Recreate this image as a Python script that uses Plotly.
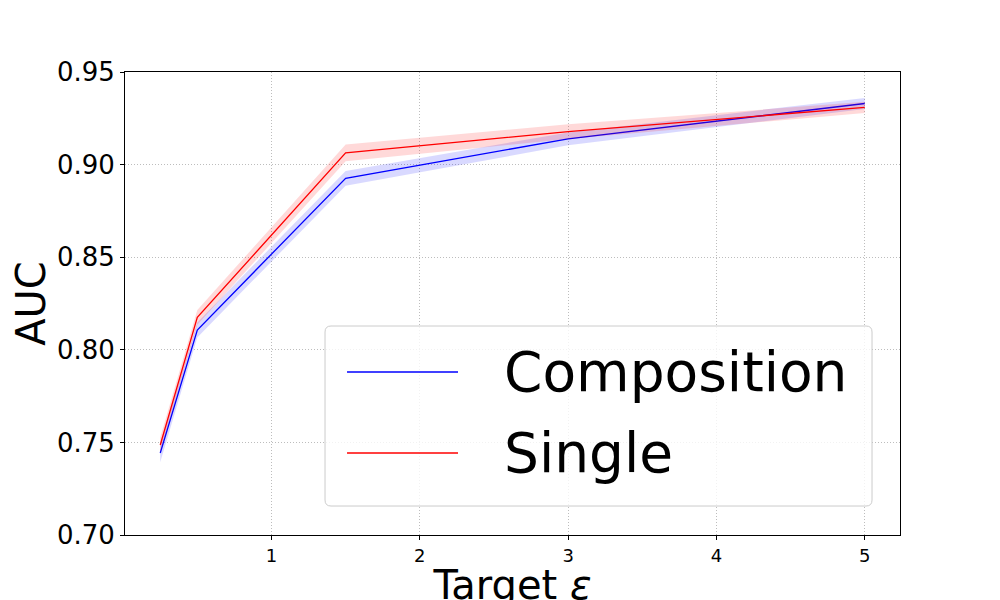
import plotly.graph_objects as go

# target epsilon values
epsilons = [0.25, 0.5, 1.5, 3, 5]

# mean AUC and spread for each method
composition_auc = [0.7443, 0.8107, 0.8926, 0.9139, 0.9330]
composition_std = [0.005, 0.004, 0.004, 0.0035, 0.003]
single_auc = [0.7486, 0.8175, 0.9063, 0.9178, 0.9309]
single_std = [0.004, 0.004, 0.0045, 0.004, 0.003]

series_names = ['Composition', 'Single']
y_ticks = [0.70, 0.75, 0.80, 0.85, 0.90, 0.95]
x_ticks = [1, 2, 3, 4, 5]

FONT = 'DejaVu Sans'


def band(x, mean, std, fillcolor):
    upper = [m + s for m, s in zip(mean, std)]
    lower = [m - s for m, s in zip(mean, std)]
    return go.Scatter(x=list(x) + list(x)[::-1], y=upper + lower[::-1],
                      fill='toself', fillcolor=fillcolor, mode='lines',
                      line=dict(width=0), hoverinfo='skip', showlegend=False)


fig = go.Figure()
fig.add_trace(go.Scatter(x=epsilons, y=composition_auc, name=series_names[0], mode='lines',
                         line=dict(color='blue', width=1.3), showlegend=False))
fig.add_trace(band(epsilons, composition_auc, composition_std, 'rgba(0,0,255,0.15)'))
fig.add_trace(go.Scatter(x=epsilons, y=single_auc, name=series_names[1], mode='lines',
                         line=dict(color='red', width=1.3), showlegend=False))
fig.add_trace(band(epsilons, single_auc, single_std, 'rgba(255,0,0,0.15)'))

# matplotlib style legend box (rounded, semi transparent)
x0, x1, y0, y1 = 0.2581, 0.9639, 0.0626, 0.4514
rx, ry = 6 / 775, 6 / 463
path = (f'M {x0 + rx},{y0} L {x1 - rx},{y0} Q {x1},{y0} {x1},{y0 + ry} '
        f'L {x1},{y1 - ry} Q {x1},{y1} {x1 - rx},{y1} '
        f'L {x0 + rx},{y1} Q {x0},{y1} {x0},{y1 - ry} '
        f'L {x0},{y0 + ry} Q {x0},{y0} {x0 + rx},{y0} Z')
fig.add_shape(type='path', path=path, xref='paper', yref='paper',
              fillcolor='rgba(255,255,255,0.8)', line=dict(color='rgb(204,204,204)', width=1))

legend_rows = [(series_names[0], 'blue', 0.352), (series_names[1], 'red', 0.1771)]
for label, color, ly in legend_rows:
    fig.add_shape(type='line', xref='paper', yref='paper', x0=0.2865, x1=0.4297, y0=ly, y1=ly,
                  line=dict(color=color, width=1.5))
    fig.add_annotation(text=label, xref='paper', yref='paper', x=0.4865, y=ly,
                       xanchor='left', yanchor='middle', showarrow=False,
                       font=dict(family=FONT, size=55, color='black'))

axis_common = dict(showline=True, linecolor='black', linewidth=1, mirror=True,
                   ticks='outside', ticklen=4, tickcolor='black',
                   showgrid=True, gridcolor='#bdbdbd', griddash='1px,2px', gridwidth=1,
                   zeroline=False)

fig.update_xaxes(range=[0.0125, 5.2375], tickvals=x_ticks,
                 tickfont=dict(family=FONT, size=18, color='black'),
                 title=dict(text='Target <i>ε</i>', font=dict(family=FONT, size=40, color='black'),
                            standoff=10),
                 **axis_common)
fig.update_yaxes(range=[0.70, 0.95], tickvals=y_ticks, tickformat='.2f',
                 tickfont=dict(family=FONT, size=26, color='black'),
                 ticklabelstandoff=0,
                 title=dict(text='AUC', font=dict(family=FONT, size=40, color='black'),
                            standoff=3),
                 **axis_common)

fig.update_layout(width=1000, height=600, margin=dict(l=117, r=108, t=64, b=73, autoexpand=False),
                  paper_bgcolor='white', plot_bgcolor='white', showlegend=False,
                  font=dict(family=FONT))

fig.write_html('out.html')
